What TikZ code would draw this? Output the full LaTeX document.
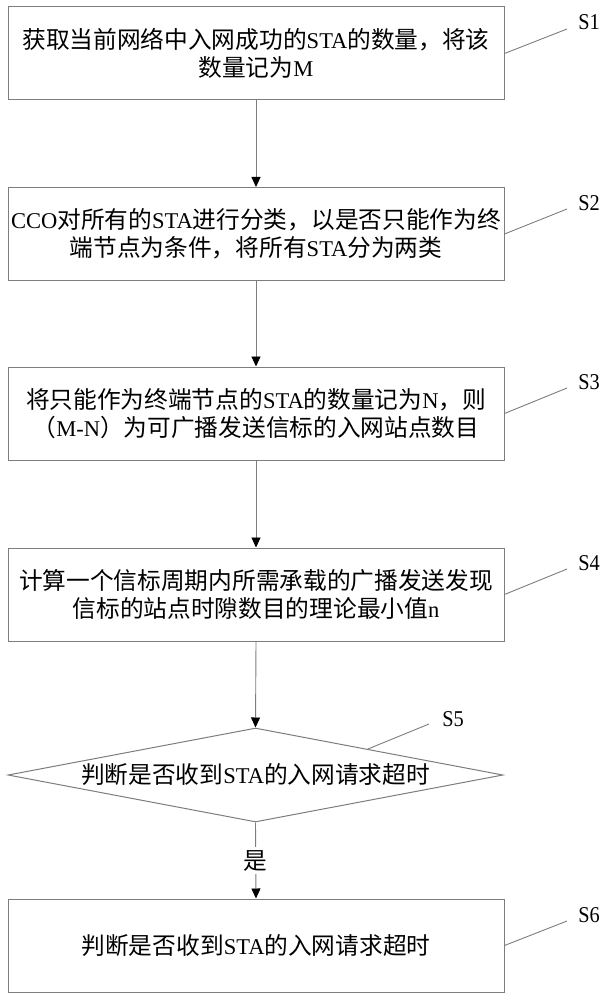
\documentclass[tikz,border=0pt]{standalone}
\usepackage{fontspec}
\setmainfont{Noto Sans CJK SC}
\newfontfamily\lat[Scale=0.95]{Liberation Serif}
\newfontfamily\labfont[FakeStretch=0.9]{Liberation Serif}
\usetikzlibrary{arrows.meta,shapes.geometric,calc}
\definecolor{linegray}{RGB}{125,125,125}
\begin{document}
\begin{tikzpicture}[x=1pt,y=-1pt,
  txt/.style={font=\fontsize{23.7}{28.5}\selectfont,text=black},
  box/.style={txt,draw=linegray,line width=1pt,minimum width=496pt,minimum height=93pt,inner sep=0pt,align=center},
  dia/.style={txt,draw=linegray,line width=1pt,diamond,aspect=5.28,minimum width=495pt,minimum height=94pt,inner sep=0pt,align=center},
  steplabel/.style={font=\fontsize{22.6}{26}\selectfont\labfont,inner sep=0pt},
  leader/.style={draw=linegray,line width=0.9pt},
  arr/.style={draw=linegray,line width=0.9pt,-{Triangle[width=9pt,length=10pt,color=black]}}]
\useasboundingbox (0,0) rectangle (609,1000);

\node[box] (b1) at (256,53.5) {获取当前网络中入网成功的{\lat STA}的数量，将该\\数量记为{\lat M}};
\node[box] (b2) at (256,234) {{\lat CCO}对所有的{\lat STA}进行分类，以是否只能作为终\\端节点为条件，将所有{\lat STA}分为两类};
\node[box] (b3) at (256,413.5) {将只能作为终端节点的{\lat STA}的数量记为{\lat N}，则\\（{\lat M-N}）为可广播发送信标的入网站点数目};
\node[box] (b4) at (256,594.5) {计算一个信标周期内所需承载的广播发送发现\\信标的站点时隙数目的理论最小值{\lat n}};
\node[dia] (s5) at (255.5,775) {判断是否收到{\lat STA}的入网请求超时};
\node[box] (b6) at (256,945.5) {判断是否收到{\lat STA}的入网请求超时};

\node[steplabel] (l1) at (589,22.5) {S1};
\node[steplabel] (l2) at (589,203.5) {S2};
\node[steplabel] (l3) at (589,382.5) {S3};
\node[steplabel] (l4) at (589,563.5) {S4};
\node[steplabel] (l5) at (453,719.5) {S5};
\node[steplabel] (l6) at (589,915.5) {S6};

\coordinate (e1) at (567,29);
\coordinate (e2) at (567,209);
\coordinate (e3) at (567,388);
\coordinate (e4) at (567,569);
\coordinate (e5) at (429,724);
\coordinate (e6) at (567,921);

\draw[leader] (b1.east) -- (e1);
\draw[leader] (b2.east) -- (e2);
\draw[leader] (b3.east) -- (e3);
\draw[leader] (b4.east) -- (e4);
\draw[leader] ($(s5.north)!0.453!(s5.east)$) -- (e5);
\draw[leader] (b6.east) -- (e6);

\draw[arr] (b1.south) -- (b2.north);
\draw[arr] (b2.south) -- (b3.north);
\draw[arr] (b3.south) -- (b4.north);
\draw[arr] (b4.south) -- (s5.north);
\draw[arr] (s5.south) -- node[txt,fill=white,inner sep=3pt] (yes) {是} (b6.north);
\end{tikzpicture}
\end{document}
